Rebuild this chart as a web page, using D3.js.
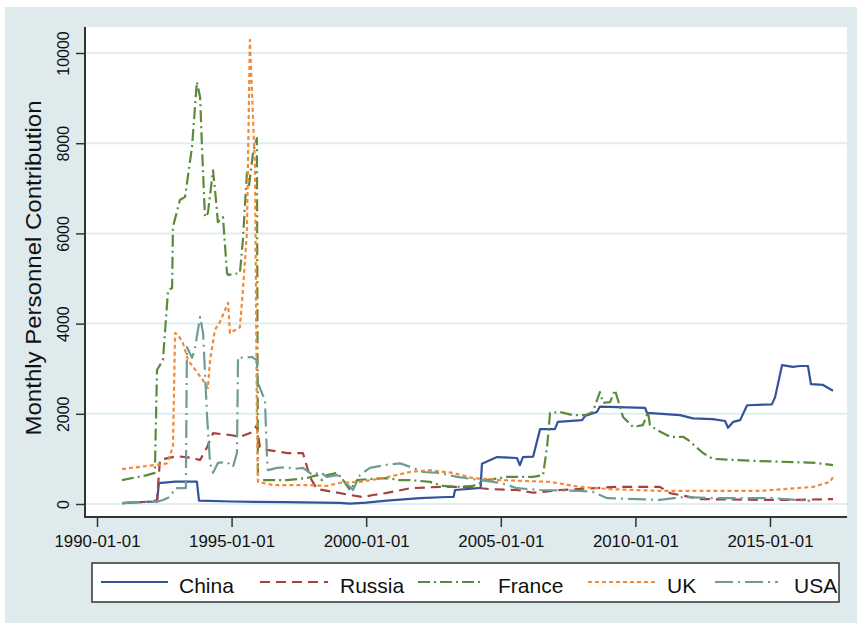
<!DOCTYPE html>
<html><head><meta charset="utf-8">
<script src="https://cdn.jsdelivr.net/npm/d3@7"></script>
<style>body{margin:0;background:#fff}</style>
</head><body>
<svg id="c" width="862" height="630"></svg>
<script>
// ---------- data (decimal year, monthly personnel) ----------
const seriesNames = ["China", "Russia", "France", "UK", "USA"];

const chinaData = [[1990.93,20],[1991.86,50],[1992.23,55],[1992.30,465],[1992.90,495],[1993.71,495],[1993.79,73],[1995.0,55],[1997.0,40],[1999.03,25],[1999.40,10],[2000.0,30],[2000.77,75],[2002.0,130],[2003.0,155],[2003.25,160],[2003.30,310],[2004.15,350],[2004.25,360],[2004.30,890],[2004.86,1040],[2005.60,1020],[2005.71,860],[2005.82,1040],[2006.20,1050],[2006.46,1660],[2007.01,1660],[2007.12,1820],[2008.02,1860],[2008.13,1950],[2008.57,2040],[2008.68,2160],[2010.36,2130],[2010.43,2020],[2011.66,1970],[2012.14,1900],[2012.88,1880],[2013.33,1840],[2013.44,1690],[2013.63,1820],[2013.89,1860],[2014.15,2190],[2015.07,2210],[2015.19,2370],[2015.45,3080],[2015.85,3040],[2016.11,3060],[2016.41,3060],[2016.52,2660],[2016.97,2640],[2017.34,2510]];

const russiaData = [[1990.93,20],[1991.86,50],[1992.23,80],[1992.34,980],[1992.97,1060],[1993.53,1020],[1993.83,975],[1994.09,1260],[1994.31,1570],[1994.94,1530],[1995.31,1490],[1995.80,1600],[1995.94,1750],[1996.05,1260],[1996.32,1200],[1997.06,1130],[1997.65,1130],[1997.91,600],[1998.17,330],[1998.77,270],[1999.40,200],[1999.88,155],[2000.25,200],[2000.77,245],[2001.63,350],[2002.74,380],[2003.74,380],[2004.60,330],[2005.60,310],[2006.20,250],[2007.20,310],[2009.32,380],[2010.91,380],[2011.29,240],[2012.40,110],[2014.63,90],[2015.85,90],[2017.34,110]];

const franceData = [[1990.93,530],[1991.86,640],[1992.15,690],[1992.23,2970],[1992.45,3190],[1992.64,4740],[1992.79,4790],[1992.82,6140],[1993.08,6740],[1993.27,6810],[1993.53,7920],[1993.71,9360],[1993.83,9020],[1993.90,7920],[1994.01,6360],[1994.12,6450],[1994.31,7400],[1994.42,6740],[1994.49,6250],[1994.68,6360],[1994.83,5120],[1994.87,5080],[1995.31,5120],[1995.42,5850],[1995.57,7340],[1995.65,7070],[1995.80,7800],[1995.94,8110],[1995.98,530],[1997.06,530],[1997.80,575],[1998.17,640],[1998.36,530],[1998.54,640],[1998.92,690],[1999.14,530],[1999.40,310],[1999.66,530],[2000.03,550],[2000.77,575],[2001.26,530],[2001.63,530],[2002.37,490],[2002.85,400],[2003.48,380],[2003.97,400],[2004.49,530],[2005.23,600],[2006.20,600],[2006.57,640],[2006.72,1270],[2006.83,2020],[2007.20,2040],[2007.68,1970],[2008.13,1970],[2008.42,2040],[2008.68,2480],[2008.80,2240],[2009.06,2260],[2009.24,2530],[2009.54,1930],[2009.91,1710],[2010.28,1750],[2010.47,2040],[2010.54,1750],[2010.80,1640],[2011.29,1490],[2011.77,1490],[2011.96,1420],[2012.51,1130],[2012.88,1000],[2014.63,950],[2015.85,930],[2016.75,910],[2017.34,860]];

const ukData = [[1990.93,775],[1992.15,865],[1992.60,900],[1992.82,1260],[1992.90,3790],[1993.01,3750],[1993.19,3570],[1993.38,3190],[1993.71,2930],[1994.01,2680],[1994.12,2570],[1994.20,3190],[1994.38,3860],[1994.57,4040],[1994.87,4460],[1994.94,3790],[1995.31,3920],[1995.42,4740],[1995.57,6010],[1995.68,10290],[1995.87,7470],[1995.94,2020],[1995.98,490],[1996.54,420],[1997.80,420],[1998.54,400],[1999.03,470],[1999.77,490],[2000.62,575],[2001.63,710],[2002.37,750],[2003.22,690],[2003.97,575],[2004.97,530],[2006.83,490],[2007.94,380],[2009.06,330],[2010.91,290],[2014.63,290],[2016.60,380],[2017.23,490],[2017.34,600]];

const usaData = [[1990.93,20],[1992.30,60],[1992.45,90],[1992.71,155],[1992.90,350],[1993.30,350],[1993.34,3480],[1993.53,3240],[1993.64,3460],[1993.83,4150],[1993.94,3790],[1994.09,1930],[1994.20,900],[1994.31,690],[1994.49,910],[1994.83,930],[1995.05,820],[1995.20,1130],[1995.24,3260],[1995.42,3240],[1995.76,3260],[1995.94,3190],[1995.98,2680],[1996.13,2460],[1996.24,2300],[1996.32,975],[1996.35,750],[1996.69,800],[1997.06,820],[1997.28,775],[1997.65,800],[1998.02,640],[1998.28,710],[1998.54,600],[1998.92,640],[1999.14,530],[1999.51,310],[1999.77,640],[2000.14,800],[2000.77,870],[2001.26,900],[2001.74,800],[2002.11,710],[2002.74,690],[2003.37,600],[2004.23,530],[2004.97,470],[2005.60,350],[2006.46,310],[2007.94,290],[2008.42,270],[2008.95,130],[2010.91,90],[2011.77,155],[2012.77,130],[2015.11,130],[2016.49,70]];

const yTicks = [0, 2000, 4000, 6000, 8000, 10000];
const xTickYears = [1990, 1995, 2000, 2005, 2010, 2015];
const xTickLabels = ["1990-01-01", "1995-01-01", "2000-01-01", "2005-01-01", "2010-01-01", "2015-01-01"];

// ---------- styles ----------
const colors = {China:"#34539a", Russia:"#a8403f", France:"#5b8a3b", UK:"#f28b36", USA:"#6f9b98"};
const dashes = {China:null, Russia:"10,6", France:"12,4,2,4", UK:"4,3", USA:"18,5,2,5"};

function toDate(y){
  const yr = Math.floor(y);
  const s = new Date(yr,0,1), e = new Date(yr+1,0,1);
  return new Date(+s + (y-yr)*(e-s));
}

const svg = d3.select("#c");
const L = 85, R = 847, T = 27, B = 517;

// backgrounds
svg.append("rect").attr("x",0).attr("y",0).attr("width",862).attr("height",630).attr("fill","#ffffff");
svg.append("rect").attr("x",5).attr("y",7).attr("width",852).attr("height",616).attr("fill","#dfeaec");
svg.append("rect").attr("x",L).attr("y",T).attr("width",R-L).attr("height",B-T).attr("fill","#ffffff");

const x = d3.scaleTime().domain([toDate(1989.554), toDate(2017.86)]).range([L, R]);
const y = d3.scaleLinear().domain([0, 10000]).range([504, 53]);

// grid
svg.append("g").selectAll("line").data(yTicks).join("line")
  .attr("x1",L).attr("x2",R).attr("y1",d=>y(d)).attr("y2",d=>y(d))
  .attr("stroke","#e0eeef").attr("stroke-width",2);

// lines
const line = d3.line().x(d=>x(toDate(d[0]))).y(d=>y(d[1]));
const allData = {China:chinaData, Russia:russiaData, France:franceData, UK:ukData, USA:usaData};
const plot = svg.append("g");
seriesNames.forEach(n=>{
  plot.append("path").datum(allData[n]).attr("d",line)
    .attr("fill","none").attr("stroke",colors[n]).attr("stroke-width",2.2)
    .attr("stroke-linejoin","round")
    .attr("stroke-dasharray",dashes[n]);
});

// axes
const font = "'Liberation Sans', Arial, sans-serif";
const xAxis = d3.axisBottom(x).tickValues(xTickYears.map(v=>toDate(v)))
  .tickFormat((d,i)=>xTickLabels[i]).tickSize(10).tickPadding(6);
const gx = svg.append("g").attr("transform",`translate(0,${B})`).call(xAxis);
gx.select(".domain").remove();
gx.selectAll(".tick line").attr("stroke","#333").attr("stroke-width",1.5);
gx.selectAll(".tick text").attr("font-family",font).attr("font-size",17).attr("fill","#111")
  .attr("y",30).attr("dy",0).attr("textLength",86).attr("lengthAdjust","spacingAndGlyphs");

const yAxis = d3.axisLeft(y).tickValues(yTicks).tickSize(9).tickFormat(d3.format("d"));
const gy = svg.append("g").attr("transform",`translate(${L},0)`).call(yAxis);
gy.select(".domain").remove();
gy.selectAll(".tick line").attr("stroke","#333").attr("stroke-width",1.5);
gy.selectAll(".tick text").attr("font-family",font).attr("font-size",16).attr("fill","#111")
  .attr("transform","rotate(-90)").attr("x",0).attr("y",-16).attr("dy",0)
  .attr("text-anchor","middle");

// axis lines
svg.append("line").attr("x1",L).attr("x2",L).attr("y1",T).attr("y2",B+1).attr("stroke","#333").attr("stroke-width",2);
svg.append("line").attr("x1",L).attr("x2",R).attr("y1",B).attr("y2",B).attr("stroke","#333").attr("stroke-width",2);

// y title
svg.append("text").attr("transform","translate(41,268) rotate(-90)")
  .attr("text-anchor","middle").attr("font-family",font).attr("font-size",22).attr("fill","#111")
  .attr("textLength",335).attr("lengthAdjust","spacingAndGlyphs")
  .text("Monthly Personnel Contribution");

// legend
const legendLineX = {China:[101,168], Russia:[260,328], France:[418,482], UK:[588,655], USA:[715,778]};
const legendTextX = {China:179, Russia:340, France:498, UK:667, USA:794};
const lg = svg.append("g");
lg.append("rect").attr("x",92).attr("y",563).attr("width",747).attr("height",39)
  .attr("fill","#fff").attr("stroke","#333").attr("stroke-width",1.5);
seriesNames.forEach(n=>{
  lg.append("line").attr("x1",legendLineX[n][0]).attr("x2",legendLineX[n][1])
    .attr("y1",582).attr("y2",582).attr("stroke",colors[n]).attr("stroke-width",2)
    .attr("stroke-dasharray",dashes[n]);
  lg.append("text").attr("x",legendTextX[n]).attr("y",593)
    .attr("font-family",font).attr("font-size",21).attr("fill","#111")
    .text(n);
});
</script>
</body></html>
